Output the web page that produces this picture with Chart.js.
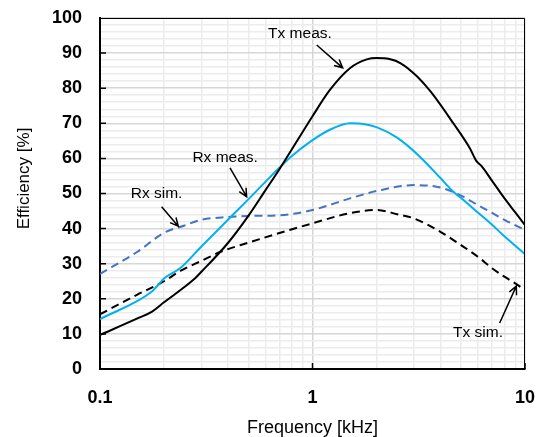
<!DOCTYPE html>
<html>
<head>
<meta charset="utf-8">
<script src="https://cdn.jsdelivr.net/npm/chart.js@4/dist/chart.umd.min.js"></script>
<style>
  body { margin: 0; background: #fff; }
  canvas { display: block; }
</style>
</head>
<body>
<canvas id="effChart" width="538" height="437"></canvas>
<script>
// --- data ---
const txMeasFreq = [0.1, 0.15, 0.175, 0.2, 0.275, 0.3, 0.4, 0.5, 0.6, 0.7, 0.8, 1.0, 1.2, 1.5, 1.8, 2.0, 2.3, 2.6, 3.1, 3.6, 4.6, 5.5, 5.9, 6.25, 7, 7.9, 9, 10];
const txMeasEff = [9.7, 14.4, 16.3, 19.0, 25.4, 27.7, 35.9, 43.7, 50.9, 57.0, 62.6, 72.0, 79.3, 85.7, 88.2, 88.6, 88.3, 87.1, 83.4, 79.0, 70.0, 62.9, 59.3, 57.8, 53.6, 49.1, 44.6, 41.0];

const rxMeasFreq = [0.1, 0.175, 0.185, 0.2, 0.238, 0.3, 0.4, 0.5, 0.6, 0.7, 0.8, 1.0, 1.2, 1.5, 1.7, 2.0, 2.5, 3.2, 4, 4.6, 5, 6, 7, 8, 10];
const rxMeasEff = [14.2, 22.0, 23.5, 25.8, 28.7, 34.9, 42.5, 48.4, 53.3, 57.4, 60.7, 65.2, 68.1, 70.0, 69.9, 68.9, 65.9, 60.5, 54.4, 50.5, 48.7, 44.6, 41.1, 37.8, 32.7];

const rxSimFreq = [0.1, 0.15, 0.2, 0.25, 0.3, 0.4, 0.5, 0.7, 1.0, 1.5, 2, 3, 4, 5, 6, 7, 8, 10];
const rxSimEff = [27.1, 33.4, 38.8, 40.9, 42.5, 43.3, 43.6, 43.8, 45.3, 48.6, 50.7, 52.4, 51.7, 49.4, 46.7, 44.5, 42.5, 39.6];

const txSimFreq = [0.1, 0.15, 0.2, 0.24, 0.3, 0.37, 0.5, 0.78, 1.0, 1.5, 2, 2.5, 3, 4, 5, 6, 7, 8, 9, 10];
const txSimEff = [15.6, 21.2, 25.0, 28.0, 30.8, 33.4, 36.0, 39.6, 41.5, 44.4, 45.3, 44.1, 42.9, 39.1, 35.3, 32.0, 28.7, 26.3, 24.4, 22.5];

const xMajor = [0.1, 1, 10];
const xGridValues = [0.1, 0.2, 0.3, 0.4, 0.5, 0.6, 0.7, 0.8, 0.9, 1, 2, 3, 4, 5, 6, 7, 8, 9, 10];
const yGridValues = [];
for (let v = 0; v <= 100; v += 2) yGridValues.push(v);

const yTitle = "Efficiency [%]";
const xTitle = "Frequency [kHz]";

// callouts: text position and arrow (tail -> head), in data units
const callouts = [
  { text: "Tx meas.", at: [0.873, 95.4], from: [1.047, 92.3], to: [1.387, 85.8] },
  { text: "Rx meas.", at: [0.388, 60.3], from: [0.409, 57.3], to: [0.49, 49.1] },
  { text: "Rx sim.", at: [0.1845, 49.9], from: [0.195, 46.2], to: [0.2336, 40.7] },
  { text: "Tx sim.", at: [6.01, 10.3], from: [7.6, 13.1], to: [9.1, 23.6] },
];

function pts(xs, ys) {
  return xs.map((x, i) => ({ x: x, y: ys[i] }));
}

const FONT = "'Liberation Sans', Arial, sans-serif";
const isMajorX = (v) => xMajor.some((m) => Math.abs(m - v) < 1e-9);

const frame = {
  id: "frame",
  afterDatasetsDraw(chart) {
    const { ctx, chartArea: a, scales } = chart;
    ctx.save();
    ctx.strokeStyle = "#000";
    // top + right border
    ctx.lineWidth = 1;
    ctx.beginPath();
    ctx.moveTo(a.left, a.top + 0.5);
    ctx.lineTo(a.right - 0.5, a.top + 0.5);
    ctx.lineTo(a.right - 0.5, a.bottom);
    ctx.stroke();
    // inward ticks
    ctx.lineWidth = 1.5;
    ctx.beginPath();
    for (let v = 10; v < 100; v += 10) {
      const y = scales.y.getPixelForValue(v);
      ctx.moveTo(a.left, y);
      ctx.lineTo(a.left + 6, y);
    }
    for (const v of xMajor) {
      const x = scales.x.getPixelForValue(v);
      ctx.moveTo(x, a.bottom);
      ctx.lineTo(x, a.bottom - 6);
    }
    ctx.stroke();

    // y title, sits a bit above the plot centre like the original
    ctx.fillStyle = "#000";
    ctx.save();
    ctx.translate(24, (a.top + a.bottom) / 2 - 15);
    ctx.rotate(-Math.PI / 2);
    ctx.font = "17px " + FONT;
    ctx.textAlign = "center";
    ctx.textBaseline = "middle";
    ctx.fillText(yTitle, 0, 0);
    ctx.restore();

    // callouts
    ctx.font = "15.5px " + FONT;
    ctx.textAlign = "center";
    ctx.textBaseline = "middle";
    ctx.lineWidth = 1.5;
    for (const c of callouts) {
      const tx = scales.x.getPixelForValue(c.at[0]);
      const ty = scales.y.getPixelForValue(c.at[1]);
      ctx.fillText(c.text, tx, ty);
      const x1 = scales.x.getPixelForValue(c.from[0]);
      const y1 = scales.y.getPixelForValue(c.from[1]);
      const x2 = scales.x.getPixelForValue(c.to[0]);
      const y2 = scales.y.getPixelForValue(c.to[1]);
      const ang = Math.atan2(y2 - y1, x2 - x1);
      const h = 9;
      ctx.beginPath();
      ctx.moveTo(x1, y1);
      ctx.lineTo(x2, y2);
      ctx.moveTo(x2 - h * Math.cos(ang - 0.45), y2 - h * Math.sin(ang - 0.45));
      ctx.lineTo(x2, y2);
      ctx.lineTo(x2 - h * Math.cos(ang + 0.45), y2 - h * Math.sin(ang + 0.45));
      ctx.stroke();
    }
    ctx.restore();
  },
};

const line = { pointRadius: 0, borderWidth: 2, cubicInterpolationMode: "monotone", fill: false };

function noPad(s) {
  s.paddingLeft = 0;
  s.paddingRight = 0;
  s.paddingTop = 0;
  s.paddingBottom = 0;
}

new Chart(document.getElementById("effChart"), {
  type: "line",
  data: {
    datasets: [
      { ...line, label: "Tx meas.", data: pts(txMeasFreq, txMeasEff), borderColor: "#000000" },
      { ...line, label: "Rx meas.", data: pts(rxMeasFreq, rxMeasEff), borderColor: "#00B0F0" },
      { ...line, label: "Rx sim.", data: pts(rxSimFreq, rxSimEff), borderColor: "#4472C4", borderDash: [8, 5] },
      { ...line, label: "Tx sim.", data: pts(txSimFreq, txSimEff), borderColor: "#000000", borderDash: [8, 5] },
    ],
  },
  options: {
    responsive: false,
    animation: false,
    layout: { padding: { top: 18, right: 13, left: 0, bottom: 0 } },
    plugins: { legend: { display: false }, tooltip: { enabled: false } },
    scales: {
      x: {
        type: "logarithmic",
        min: 0.1,
        max: 10,
        afterBuildTicks: (s) => { s.ticks = xGridValues.map((v) => ({ value: v })); },
        afterFit: (s) => { s.height = 68; noPad(s); },
        ticks: {
          autoSkip: false,
          maxRotation: 0,
          padding: 18,
          color: "#000",
          font: { family: FONT, size: 18, weight: "bold" },
          callback: (v) => (isMajorX(v) ? String(v) : ""),
        },
        grid: {
          drawTicks: false,
          lineWidth: 1.5,
          color: (c) => (c.tick && isMajorX(c.tick.value) ? "#d6d6d6" : "#ececec"),
        },
        border: { color: "#000", width: 2 },
        title: {
          display: true,
          text: xTitle,
          color: "#000",
          font: { family: FONT, size: 18, lineHeight: 1 },
          padding: { top: 0, bottom: 0 },
        },
      },
      y: {
        min: 0,
        max: 100,
        afterBuildTicks: (s) => { s.ticks = yGridValues.map((v) => ({ value: v })); },
        afterFit: (s) => { s.width = 100; noPad(s); },
        ticks: {
          autoSkip: false,
          padding: 18,
          color: "#000",
          font: { family: FONT, size: 18, weight: "bold" },
          callback: (v) => (v % 10 === 0 ? String(v) : ""),
        },
        grid: {
          drawTicks: false,
          lineWidth: 1.5,
          color: (c) => (c.tick && c.tick.value % 10 === 0 ? "#d6d6d6" : "#ececec"),
        },
        border: { color: "#000", width: 2 },
      },
    },
  },
  plugins: [frame],
});
</script>
</body>
</html>
